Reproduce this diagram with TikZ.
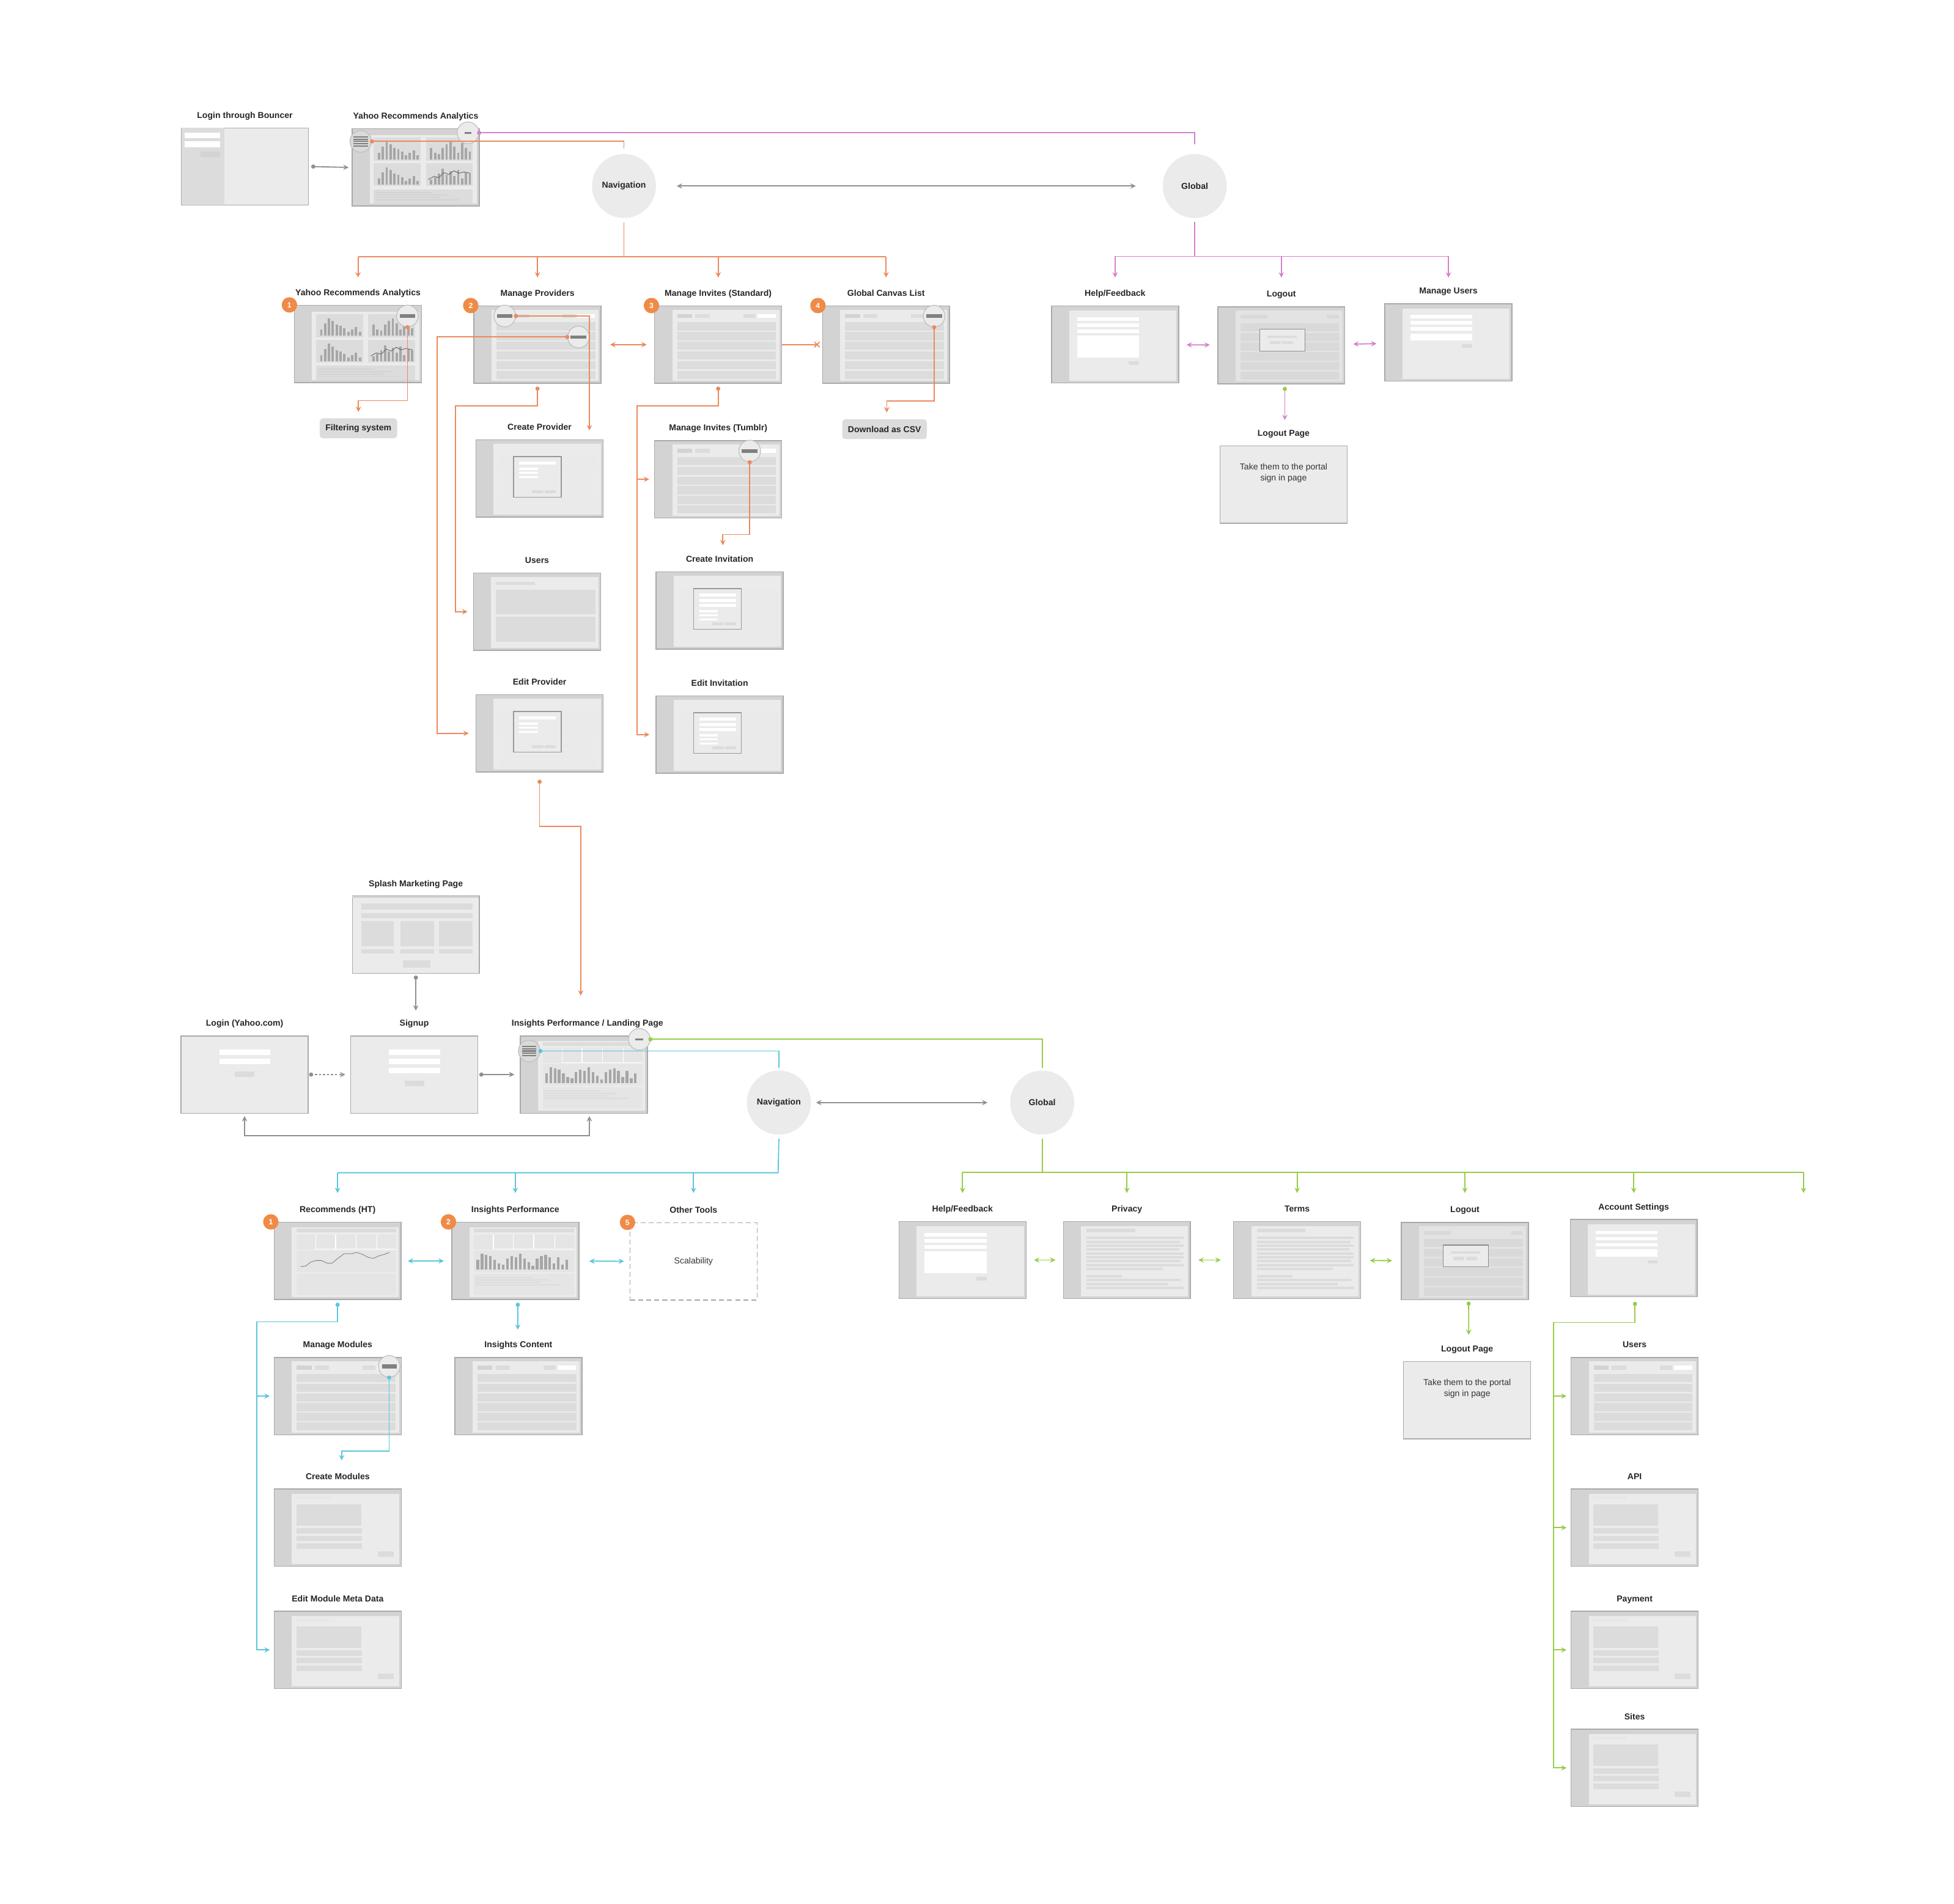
\documentclass[tikz,border=0pt]{standalone}
\usepackage{fontspec}
\setmainfont{Liberation Sans}
\usepackage{tikz}
\usetikzlibrary{arrows,calc,positioning,shapes.misc}

\definecolor{wfside}{HTML}{D3D3D3}
\definecolor{wfpanel}{HTML}{EBEBEB}
\definecolor{wfrow}{HTML}{DCDCDC}
\definecolor{wfdim}{HTML}{E3E3E3}
\definecolor{wfdimrow}{HTML}{D9D9D9}
\definecolor{wfline}{HTML}{A9A9A9}
\definecolor{wfbar}{HTML}{A6A6A6}
\definecolor{worange}{HTML}{EA8A5D}
\definecolor{wbadge}{HTML}{EF8B47}
\definecolor{wpink}{HTML}{D680C9}
\definecolor{wcyan}{HTML}{5CC5DB}
\definecolor{wgreen}{HTML}{98CC48}
\definecolor{wgray}{HTML}{8F8F8F}

\newcommand{\wffont}{\fontsize{6.9}{8.6}\selectfont}

% wireframe contents, box is 102 x 62, y runs down
\newcommand{\wfat}[2]{\begin{scope}[shift={(#1.north west)}]#2\end{scope}}
\newcommand{\wfpanel}[1][3.5]{\fill[wfpanel] (14.5,#1) rectangle (100.5,60.5);}
\newcommand{\wflist}{\wfpanel
  \fill[wfside] (18.5,7) rectangle (30.5,10);
  \fill[wfrow] (33,7) rectangle (44.5,10);
  \fill[wfrow] (71.5,7) rectangle (81.5,10);
  \fill[white] (83,7) rectangle (97.5,10);
  \foreach \r in {0,...,5} {\fill[wfrow] (18.5,13.5+7.8*\r) rectangle (97.8,20+7.8*\r);}}
\newcommand{\wfmodal}[1]{\wfpanel
  \foreach \r in {0,...,5} {\fill[wfrow!60] (18.5,13.5+7.8*\r) rectangle (97.8,20+7.8*\r);}
  \filldraw[fill=wfpanel, draw=black!40, line width=0.6pt] (30.5,13.8) rectangle (68.7,46.3);
  \foreach \r in {1,...,#1} {\fill[white] (35,13.5+4.2*\r) rectangle (64.4,16+4.2*\r);}
  \foreach \r in {1,2,3} {\fill[white] (35,15.3+4.2*#1+3.3*\r) rectangle (50,16.9+4.2*#1+3.3*\r);}
  \fill[wfrow] (45.4,41) rectangle (54.6,43.4);
  \fill[wfrow] (55.7,41) rectangle (64.4,43.4);}
\newcommand{\wflogout}{\fill[wfdim] (14.5,3.5) rectangle (100.5,60.5);
  \fill[wfdimrow] (18.5,7) rectangle (40,10);
  \fill[wfdimrow] (88,7) rectangle (97.5,10);
  \foreach \r in {0,...,5} {\fill[wfdimrow] (18.5,13.5+7.8*\r) rectangle (97.8,20+7.8*\r);}
  \filldraw[fill=wfpanel, draw=black!45, line width=0.6pt] (33.9,18.5) rectangle (70.3,36);
  \fill[wfrow] (40.3,23.6) rectangle (63.8,25.6);
  \fill[wfrow] (41.9,28) rectangle (50.9,30.6);
  \fill[wfrow] (52.1,28) rectangle (61,30.6);}
\newcommand{\wfusers}{\wfpanel
  \fill[wfrow] (18,7.2) rectangle (49.5,10);
  \fill[wfrow] (18,13.6) rectangle (98,33.3);
  \fill[wfrow] (18,35.5) rectangle (98,55.6);}
\newcommand{\wfform}[1]{\wfpanel[4.3]
  \foreach \r in {0,1,2} {\fill[white] (20.9,9.4+4.9*\r) rectangle (70.6,12.3+4.9*\r);}
  \fill[white] (20.9,24.4) rectangle (70.6,#1);
  \fill[wfrow] (62.3,#1+3) rectangle (70.6,#1+5.8);}
\newcommand{\wftext}{\wfpanel[4.2]
  \fill[wfrow] (19,6.2) rectangle (58,9);
  \foreach \w [count=\i] in {96.7,94,96.7,93.3,96.7,96.7,94.5,96.7,80}
    {\fill[wfrow] (19,9.5+3.1*\i) rectangle (\w,11.5+3.1*\i);}
  \fill[wfrow] (19,43.4) rectangle (47.5,45.3);
  \foreach \w [count=\i] in {94.5,84,97}
    {\fill[wfrow] (19,43.2+3.2*\i) rectangle (\w,45.2+3.2*\i);}}
\newcommand{\wfblock}{\wfpanel[4]
  \fill[wfrow!70] (18.1,6) rectangle (44.8,8.7);
  \fill[wfrow] (18.1,12.5) rectangle (70.4,29.6);
  \foreach \r in {0,1,2} {\fill[wfrow] (18.1,31.5+6.3*\r) rectangle (70.6,35.9+6.3*\r);}
  \fill[wfrow] (83.5,50.3) rectangle (96.2,54.8);}
\newcommand{\wfbars}[3]{\foreach \h [count=\i] in {#3} {\fill[wfbar] (#1+3.1*\i,#2) rectangle ++(1.9,-\h);}}
\newcommand{\wfcharts}{\wfpanel[5.6]
  \foreach \x/\y in {17.7/7.4, 59.6/7.4, 17.7/27.8, 59.6/27.8} {\fill[wfrow] (\x,\y) rectangle ++(37.6,18.5);}
  \wfbars{17.8}{24.8}{5,10,14,12,9,8,6,3,5,7,3}
  \wfbars{59.7}{24.8}{9,5,4,9,12,14,10,5,13,9,6}
  \wfbars{17.8}{45.2}{5,10,14,12,9,8,6,3,5,7,3}
  \wfbars{59.7}{45.2}{4,6,9,13,8,11,7,12,5,10,9}
  \draw[black!60, line width=0.45pt] (61.5,41) -- (66,38.5) -- (70,39.5) -- (74,35.5) -- (78,37) -- (82,34) -- (86,36) -- (90,35) -- (95,36);
  \fill[wfrow] (17.7,48.8) rectangle (97,60.2);
  \foreach \w [count=\i] in {64.6,78,71.6,86.3} {\fill[wfside] (19.1,49.1+1.95*\i) rectangle (\w,49.9+1.95*\i);}}
\newcommand{\wfkpi}{\wfpanel[4.4]
  \fill[wfrow] (18.3,5.5) rectangle (98.6,8.5);
  \fill[wfrow!75] (18.3,10.4) rectangle (98.6,21.9);
  \draw[white, line width=0.6pt] (33.8,10.4) -- (33.8,21.9) (49.8,10.4) -- (49.8,21.9)
    (66.1,10.4) -- (66.1,21.9) (83,10.4) -- (83,21.9) (33.8,21.9) -- (98.6,21.9);
  \fill[wfrow!75] (18.3,22.8) rectangle (98.6,40.4);
  \fill[wfrow!75] (18.3,41.6) rectangle (98.6,58.8);}
\newcommand{\wfinsights}{\wfkpi
  \foreach \h [count=\i] in {8,13,12,11,8,5,4,9,11,10,13,9,6,3,9,11,12,10,5,10,4,8}
    {\fill[wfbar] (16.8+3.4*\i,38.3) rectangle ++(2.1,-\h);}
  \foreach \w [count=\i] in {64.8,78.3,71.8,86.8} {\fill[wfrow] (19,42.3+1.9*\i) rectangle (\w,43.3+1.9*\i);}}
\newcommand{\wfrec}{\wfkpi
  \draw[black!45, line width=0.5pt] (21.6,35.9) -- (25.8,35.4) -- (30,32.1) -- (34.2,31) -- (38.4,31)
    -- (42.6,33) -- (46.8,33.3) -- (51,29.7) -- (56.6,25.6) -- (62.2,25.6) -- (67,24.5) -- (72,26.4)
    -- (76.2,28.6) -- (80.4,29.2) -- (84.6,27.2) -- (88.8,26.1) -- (93,24.5);}
\newcommand{\wfbouncer}{\fill[wfside!80] (0.4,0.4) rectangle (34.7,61.6);
  \fill[white] (2.8,3.9) rectangle (31.4,8.4);
  \fill[white] (2.8,10.9) rectangle (31.4,15.8);
  \fill[wfside] (16,19.3) rectangle (31.4,23.5);}
\newcommand{\wfsplash}{\fill[wfside] (0.4,0.4) rectangle (101.6,1.8);
  \fill[wfrow] (7.5,6.4) rectangle (97,11);
  \fill[wfrow] (7.5,13.8) rectangle (97,18);
  \foreach \a/\b in {7.5/33.6, 38.9/66, 70/97} {\fill[wfrow] (\a,20.5) rectangle (\b,40.5); \fill[wfrow] (\a,43) rectangle (\b,46.3);}
  \fill[wfrow] (41,52) rectangle (62.8,57.7);}
\newcommand{\wflogin}[1]{\foreach \r in {1,...,#1} {\fill[white] (31.2,3.9+7.3*\r) rectangle (72,8.4+7.3*\r);}
  \fill[wfrow] (43.6,14.5+7.3*#1) rectangle (59.3,18.7+7.3*#1);}

\tikzstyle{dot}=[fill,shape=circle,inner sep=1.2pt]
\tikzstyle{screen}=[rectangle, draw=wfline, fill=wfside, line width=0.7pt,
  minimum width=102pt, minimum height=62pt, inner sep=0pt, font=\wffont, text=black!80]
\tikzstyle{title}=[font=\wffont\bfseries, text=black!85, inner sep=0pt, anchor=base]
\tikzstyle{note}=[font=\wffont, text=black!80, inner sep=0pt, align=center]
\tikzstyle{hub}=[circle, fill=wfpanel, minimum size=51.4pt, inner sep=0pt, font=\wffont\bfseries, text=black!85]
\tikzstyle{badge}=[circle, fill=wbadge, text=white, minimum size=12.4pt, inner sep=0pt, font=\fontsize{6}{6}\selectfont\bfseries]
\tikzstyle{tag}=[rounded corners=2.5pt, fill=wfrow, minimum height=16pt, inner xsep=4.6pt, inner ysep=0pt, font=\wffont\bfseries, text=black!85]
\tikzstyle{xmark}=[cross out, draw, minimum size=3.4pt, inner sep=0pt]
\tikzstyle{oline}=[worange, line width=0.9pt]
\tikzstyle{pline}=[wpink, line width=0.9pt]
\tikzstyle{cline}=[wcyan, line width=0.9pt]
\tikzstyle{grline}=[wgreen, line width=0.9pt]
\tikzstyle{gline}=[wgray, line width=0.9pt]
\tikzset{
  lens/.style={circle, draw=black!25, fill=wfpanel, line width=0.6pt, minimum size=17.4pt, inner sep=0pt},
  minus lens/.style 2 args={lens, path picture={\fill[black!50]
    ([shift={(-#1pt,-#2pt)}]path picture bounding box.center) rectangle ([shift={(#1pt,#2pt)}]path picture bounding box.center);}},
  menu lens/.style={lens, fill=wfside!85, path picture={\foreach \k in {-2,...,2}
    {\fill[black!50] ([shift={(-5.8pt,\k*1.8pt-0.5pt)}]path picture bounding box.center) rectangle ++(11.6pt,1pt);}}},
}

\begin{document}
\begin{tikzpicture}[x=1pt, y=-1pt]
  \useasboundingbox (0,0) rectangle (1568,1528);

  % Login through Bouncer
  \node[screen, fill=wfpanel] (bouncer) at (196.5,133.7) {}; \wfat{bouncer}{\wfbouncer}
  \node[title] (t-bouncer) at ([yshift=7.5pt]bouncer.north) {Login through Bouncer};
  % Yahoo Recommends Analytics
  \node[screen] (yra) at (333.6,134.4) {}; \wfat{yra}{\wfcharts}
  \node[title] (t-yra) at ([yshift=7.5pt]yra.north) {Yahoo Recommends Analytics};
  \node[menu lens] (yramenu) at (289.5,113.5) {};
  \node[minus lens={2.8}{0.65}] (yraminus) at (375.5,106.6) {};
  % Navigation and Global
  \node[hub] (nav) at (500.7,149.3) {Navigation};
  \node[hub] (global) at (958.7,149.3) {Global};
  \coordinate (navbus) at (500.7,206);
  \coordinate (gbus) at (958.7,205.8);

  % Navigation pages
  \node[screen] (yra2) at (287.3,276.1) {}; \wfat{yra2}{\wfcharts}
  \node[screen] (mprov) at (431.3,276.6) {}; \wfat{mprov}{\wflist}
  \node[screen] (minv) at (576.3,276.6) {}; \wfat{minv}{\wflist}
  \node[screen] (gcl) at (711,276.6) {}; \wfat{gcl}{\wflist}
  \node[title] (t-yra2) at ([yshift=7.5pt]yra2.north) {Yahoo Recommends Analytics};
  \node[title] (t-mprov) at ([yshift=7.5pt]mprov.north) {Manage Providers};
  \node[title] (t-minv) at ([yshift=7.5pt]minv.north) {Manage Invites (Standard)};
  \node[title] (t-gcl) at ([yshift=7.5pt]gcl.north) {Global Canvas List};
  \node[badge] (n1) at ([xshift=-3.7pt]yra2.north west) {1};
  \node[badge] (n2) at ([xshift=-2.2pt]mprov.north west) {2};
  \node[badge] (n3) at ([xshift=-2.2pt]minv.north west) {3};
  \node[badge] (n4) at ([xshift=-3.3pt]gcl.north west) {4};
  \node[minus lens={6.3}{1.3}] (yralens) at (327,253.6) {};
  \node[minus lens={6.3}{1.3}] (provlens) at (405,253.6) {};
  \node[minus lens={6.3}{1.3}] (editlens) at (464.2,270.5) {};
  \node[minus lens={6.3}{1.3}] (csvlens) at (749.6,253.7) {};
  \node[tag] (filter) at (287.6,343.8) {Filtering system};
  \node[tag] (csv) at (709.8,344.5) {Download as CSV};
  % providers and invites
  \node[screen] (cprov) at (433,384) {}; \wfat{cprov}{\wfmodal{1}}
  \node[screen] (users) at (431,491) {}; \wfat{users}{\wfusers}
  \node[screen] (eprov) at (433,588.6) {}; \wfat{eprov}{\wfmodal{1}}
  \node[screen] (tumblr) at (576.3,384.7) {}; \wfat{tumblr}{\wflist}
  \node[screen] (cinv) at (577.5,490) {}; \wfat{cinv}{\wfmodal{3}}
  \node[screen] (einv) at (577.5,589.6) {}; \wfat{einv}{\wfmodal{3}}
  \node[title] (t-cprov) at ([yshift=7.5pt]cprov.north) {Create Provider};
  \node[title] (t-users) at ([yshift=7.5pt]users.north) {Users};
  \node[title] (t-eprov) at ([yshift=7.5pt]eprov.north) {Edit Provider};
  \node[title] (t-tumblr) at ([yshift=7.5pt]tumblr.north) {Manage Invites (Tumblr)};
  \node[title] (t-cinv) at ([yshift=7.5pt]cinv.north) {Create Invitation};
  \node[title] (t-einv) at ([yshift=7.5pt]einv.north) {Edit Invitation};
  \node[minus lens={6.3}{1.3}] (invlens) at (601.6,362) {};

  % Global pages
  \node[screen] (help) at (894.8,276.5) {}; \wfat{help}{\wfform{42}}
  \node[screen] (logout) at (1028.2,277.2) {}; \wfat{logout}{\wflogout}
  \node[screen] (musers) at (1162.3,274.8) {}; \wfat{musers}{\wfform{30}}
  \node[screen, fill=wfpanel] (lpage) at (1030,388.9) {};
  \node[note, below=14.5pt of lpage.north] (lpagetext) {Take them to the portal\\sign in page};
  \node[title] (t-help) at ([yshift=7.5pt]help.north) {Help/Feedback};
  \node[title] (t-logout) at ([yshift=7.5pt]logout.north) {Logout};
  \node[title] (t-musers) at ([yshift=7.5pt]musers.north) {Manage Users};
  \node[title] (t-lpage) at ([yshift=7.5pt]lpage.north) {Logout Page};

  % lines, top part
  \draw[gline,-stealth] ([xshift=3.5pt]bouncer.east) node[dot]{} -- ([xshift=-2.5pt]yra.west);
  \draw[gline,stealth-stealth,shorten <=16.5pt,shorten >=21.4pt] (nav) -- (global);
  \draw[oline] (yramenu.east) node[dot]{} -| ([yshift=4pt]nav.north);
  \draw[pline] (yraminus.east) node[dot]{} -| ([yshift=7.5pt]global.north);
  \draw[oline] ([yshift=-3.5pt]nav.south) -- (navbus);
  \draw[oline] (navbus -| yra2) -- (navbus -| gcl);
  \foreach \n in {yra2,mprov,minv,gcl} \draw[oline,-stealth] (navbus -| \n) -- ++(0,16.7);
  \draw[pline] ([yshift=-3pt]global.south) -- (gbus);
  \draw[pline] (gbus -| help) -- (gbus -| musers);
  \foreach \n in {help,logout,musers} \draw[pline,-stealth] (gbus -| \n) -- ++(0,17);
  \draw[pline,stealth-stealth,shorten <=6pt,shorten >=6pt] (help) -- (logout);
  \draw[pline,stealth-stealth,shorten <=6.3pt,shorten >=6.4pt] (logout) -- (musers);
  \draw[pline,-stealth] ([xshift=2.8pt,yshift=-3.6pt]logout.south) node[dot,fill=wgreen]{} -- ([xshift=1pt,yshift=20.4pt]lpage.north);
  \draw[oline,-stealth] (yralens.south) node[dot]{} -- ++(0,59) -| ([yshift=5pt]filter.north);
  \draw[oline,-stealth] (provlens.east) node[dot]{} -| ($(cprov.north east)+(-11.4,-7.2)$);
  \draw[oline,-stealth] (editlens.west) node[dot]{} -| ($(eprov.west)+(-31,0)$) -- ([xshift=-5.5pt]eprov.west);
  \draw[oline,-stealth] ([yshift=-4pt]mprov.south) node[dot]{} -- ++(0,14) -| ($(users.west)+(-14,0)$) -- ([xshift=-4.5pt]users.west);
  \draw[oline,stealth-stealth,shorten <=7pt,shorten >=6pt] (mprov) -- (minv);
  \draw[oline] (minv.east) -- ([xshift=-4pt]gcl.west) node[xmark]{};
  \draw[oline,-stealth] ([yshift=-4pt]minv.south) node[dot]{} -- ++(0,14) -| ($(einv.west)+(-15,0)$) -- ([xshift=-5pt]einv.west);
  \draw[oline,-stealth] ($(tumblr.west)+(-14,0)$) -- ([xshift=-4pt]tumblr.west);
  \draw[oline,-stealth] (invlens.south) node[dot]{} -- ++(0,58) -| ([xshift=2.5pt,yshift=21pt]cinv.north);
  \draw[oline,-stealth] (csvlens.south) node[dot]{} -- ++(0,59.3) -| ([xshift=1.8pt,yshift=5.3pt]csv.north);

  % Splash, Login, Signup, Landing
  \node[screen, fill=wfpanel] (splash) at (333.7,750.3) {}; \wfat{splash}{\wfsplash}
  \node[screen, fill=wfpanel] (login) at (196.3,862.5) {}; \wfat{login}{\wflogin{2}}
  \node[screen, fill=wfpanel] (signup) at (332.4,862.5) {}; \wfat{signup}{\wflogin{3}}
  \node[screen] (landing) at (468.6,862.5) {}; \wfat{landing}{\wfinsights}
  \node[title] (t-splash) at ([yshift=7.5pt]splash.north) {Splash Marketing Page};
  \node[title] (t-login) at ([yshift=7.5pt]login.north) {Login (Yahoo.com)};
  \node[title] (t-signup) at ([yshift=7.5pt]signup.north) {Signup};
  \node[title] (t-landing) at ([xshift=2.8pt,yshift=7.5pt]landing.north) {Insights Performance / Landing Page};
  \node[menu lens] (landmenu) at (424.7,843.6) {};
  \node[minus lens={3.1}{0.8}] (landminus) at (513,834.2) {};
  \node[hub] (bnav) at (625,885) {Navigation};
  \node[hub] (bglobal) at (836.3,885) {Global};
  \coordinate (cbus) at (624.4,941.3);
  \coordinate (gbus2) at (836.3,940.8);
  \coordinate (spare) at (1447.3,957.6);

  % Navigation pages, bottom
  \node[screen] (rec) at (270.9,1012.1) {}; \wfat{rec}{\wfrec}
  \node[screen] (ip) at (413.5,1012.1) {}; \wfat{ip}{\wfinsights}
  \node[screen, fill=white, draw=black!35, dash pattern=on 4pt off 2.5pt] (other) at (556.5,1012.5) {Scalability};
  \node[title] (t-rec) at ([yshift=7.5pt]rec.north) {Recommends (HT)};
  \node[title] (t-ip) at ([yshift=7.5pt]ip.north) {Insights Performance};
  \node[title] (t-other) at ([yshift=7.5pt]other.north) {Other Tools};
  \node[badge] (m1) at ([xshift=-2.2pt]rec.north west) {1};
  \node[badge] (m2) at ([xshift=-2.3pt]ip.north west) {2};
  \node[badge] (m5) at ([xshift=-1.6pt]other.north west) {5};
  \node[screen] (mm) at (271,1120.6) {}; \wfat{mm}{\wflist}
  \node[screen] (ic) at (416,1120.6) {}; \wfat{ic}{\wflist}
  \node[screen] (cm) at (271,1226.2) {}; \wfat{cm}{\wfblock}
  \node[screen] (emd) at (271,1324.3) {}; \wfat{emd}{\wfblock}
  \node[title] (t-mm) at ([yshift=7.5pt]mm.north) {Manage Modules};
  \node[title] (t-ic) at ([yshift=7.5pt]ic.north) {Insights Content};
  \node[title] (t-cm) at ([yshift=7.5pt]cm.north) {Create Modules};
  \node[title] (t-emd) at ([yshift=7.5pt]emd.north) {Edit Module Meta Data};
  \node[minus lens={5.9}{1.6}] (modlens) at (312.3,1096.7) {};

  % Global pages, bottom
  \node[screen] (help2) at (772.4,1011.4) {}; \wfat{help2}{\wfform{42}}
  \node[screen] (privacy) at (904.3,1011.4) {}; \wfat{privacy}{\wftext}
  \node[screen] (terms) at (1040.9,1011.4) {}; \wfat{terms}{\wftext}
  \node[screen] (logout2) at (1175.5,1012.2) {}; \wfat{logout2}{\wflogout}
  \node[screen] (acct) at (1311,1009.8) {}; \wfat{acct}{\wfform{30}}
  \node[screen, fill=wfpanel] (lpage2) at (1177.3,1123.8) {};
  \node[note, below=14.5pt of lpage2.north] (lpage2text) {Take them to the portal\\sign in page};
  \node[screen] (users2) at (1311.7,1120.6) {}; \wfat{users2}{\wflist}
  \node[screen] (api) at (1311.7,1226.2) {}; \wfat{api}{\wfblock}
  \node[screen] (payment) at (1311.7,1324.3) {}; \wfat{payment}{\wfblock}
  \node[screen] (sites) at (1311.7,1419) {}; \wfat{sites}{\wfblock}
  \node[title] (t-help2) at ([yshift=7.5pt]help2.north) {Help/Feedback};
  \node[title] (t-privacy) at ([yshift=7.5pt]privacy.north) {Privacy};
  \node[title] (t-terms) at ([yshift=7.5pt]terms.north) {Terms};
  \node[title] (t-logout2) at ([yshift=7.5pt]logout2.north) {Logout};
  \node[title] (t-acct) at ([yshift=7.5pt]acct.north) {Account Settings};
  \node[title] (t-lpage2) at ([yshift=7.5pt]lpage2.north) {Logout Page};
  \node[title] (t-users2) at ([yshift=7.5pt]users2.north) {Users};
  \node[title] (t-api) at ([yshift=7.5pt]api.north) {API};
  \node[title] (t-payment) at ([yshift=7.5pt]payment.north) {Payment};
  \node[title] (t-sites) at ([yshift=7.5pt]sites.north) {Sites};

  % lines, bottom part
  \draw[oline,-stealth] ([yshift=-7.5pt]eprov.south) node[dot]{} -- ++(0,36) -| ($(landing.north)+(-2.6,-32)$);
  \draw[gline,-stealth] ([yshift=-3pt]splash.south) node[dot]{} -- ([xshift=1.3pt,yshift=20pt]signup.north);
  \draw[gline,dash pattern=on 1.6pt off 1.6pt,-stealth] ([xshift=2pt]login.east) node[dot]{} -- ([xshift=-4pt]signup.west);
  \draw[gline,-stealth] ([xshift=2.5pt]signup.east) node[dot]{} -- ([xshift=-4.5pt]landing.west);
  \draw[gline,stealth-stealth] ([yshift=-2pt]login.south) -- ++(0,15.5) -| ([xshift=4.3pt,yshift=-2pt]landing.south);
  \draw[grline] (landminus.east) node[dot]{} -| ([yshift=2pt]bglobal.north);
  \draw[cline] (landmenu.east) node[dot]{} -| ([yshift=2pt]bnav.north);
  \draw[gline,stealth-stealth,shorten <=4pt,shorten >=18pt] (bnav) -- (bglobal);
  \draw[cline] ([yshift=-3pt]bnav.south) -- (cbus) -- (cbus -| rec);
  \foreach \n in {rec,ip,other} \draw[cline,-stealth] (cbus -| \n) -- ++(0,16.3);
  \draw[cline,stealth-stealth,shorten <=5pt,shorten >=6pt] (rec) -- (ip);
  \draw[cline,stealth-stealth,shorten <=8pt,shorten >=4.5pt] (ip) -- (other);
  \draw[cline,-stealth] ([yshift=-3.8pt]rec.south) node[dot]{} -- ++(0,13.7) -| ($(emd.west)+(-13.6,0)$) -- ([xshift=-3.2pt]emd.west);
  \draw[cline,-stealth] ($(mm.west)+(-13.6,0)$) -- ([xshift=-3.2pt]mm.west);
  \draw[cline,-stealth] ([xshift=2pt,yshift=-3.8pt]ip.south) node[dot]{} -- ++(0,20);
  \draw[cline,-stealth] (modlens.south) node[dot]{} -- ++(0,58.8) -| ([xshift=3.2pt,yshift=22.7pt]cm.north);
  \draw[grline] ([yshift=-3pt]bglobal.south) -- (gbus2);
  \draw[grline] (gbus2 -| help2) -- (gbus2 -| spare);
  \foreach \n in {help2,privacy,terms,logout2,acct,spare} \draw[grline,-stealth] (gbus2 -| \n) -- ++(0,16.8);
  \draw[grline,stealth-stealth,shorten <=6pt,shorten >=6pt] (help2) -- (privacy);
  \draw[grline,stealth-stealth,shorten <=6pt,shorten >=10pt] (privacy) -- (terms);
  \draw[grline,stealth-stealth,shorten <=7pt,shorten >=7pt] (terms) -- (logout2);
  \draw[grline,-stealth] ([xshift=3pt,yshift=-2.8pt]logout2.south) node[dot]{} -- ([xshift=1.3pt,yshift=21pt]lpage2.north);
  \draw[grline,-stealth] ([xshift=1pt,yshift=-5.4pt]acct.south) node[dot]{} -- ++(0,14.9) -| ($(sites.west)+(-13.6,0)$) -- ([xshift=-3.3pt]sites.west);
  \foreach \n in {users2,api,payment} \draw[grline,-stealth] ($(\n.west)+(-13.6,0)$) -- ([xshift=-3.3pt]\n.west);
\end{tikzpicture}
\end{document}
